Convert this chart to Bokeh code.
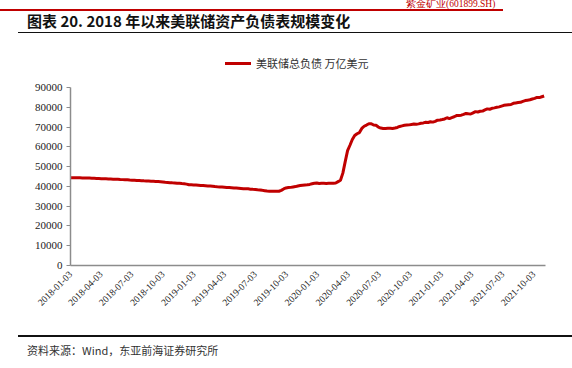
import pandas as pd
from math import pi
from bokeh.plotting import figure
from bokeh.layouts import column
from bokeh.models import ColumnDataSource, Range1d, FixedTicker, DatetimeTickFormatter, Div
from bokeh.embed import file_html
from bokeh.resources import INLINE

# ---- data (weekly, starting 2018-01-03), unit: 亿美元 ----
start_date = "2018-01-03"
v2018 = [44400, 44390, 44380, 44350, 44330,
         44300, 44250, 44220, 44180,
         44120, 44070, 44000, 43950,
         43900, 43850, 43800, 43750,
         43700, 43650, 43600, 43550, 43480,
         43420, 43350, 43300, 43220,
         43150, 43080, 43000, 42950,
         42880, 42800, 42750, 42700, 42620,
         42550, 42480, 42420, 42350,
         42230, 42100, 42000, 41900, 41800,
         41720, 41600, 41550, 41420,
         41300, 41150, 40850, 40800]
v2019 = [40750, 40700, 40600, 40500, 40450,
         40350, 40250, 40150, 40050,
         39900, 39800, 39750, 39650,
         39550, 39450, 39400, 39300,
         39200, 39150, 39050, 38950, 38850,
         38800, 38750, 38600, 38500,
         38450, 38300, 38200, 38000, 37850,
         37700, 37600, 37550, 37500,
         37500, 37550, 38000, 38700,
         39200, 39400, 39500, 39700, 39900,
         40200, 40400, 40600, 40700,
         40800, 41000, 41300, 41600]
v2020 = [41700, 41500, 41600, 41550, 41500,
         41600, 41650, 41600, 41700,
         42400, 43100, 46700, 52500,
         58100, 60800, 63700, 65700, 66600,
         67200, 69300, 70400, 71000,
         71700, 71700, 71000, 70900,
         70000, 69500, 69300, 69300, 69400,
         69400, 69300, 69500, 69800,
         70300, 70600, 70900, 71000, 71100,
         71300, 71500, 71400, 71600,
         71900, 72100, 72400, 72300,
         72700, 72500, 72900, 73500, 73600]
v2021 = [73800, 74100, 74700, 74300,
         74800, 75200, 75800, 75900,
         76000, 76400, 76900, 76700, 76600,
         77200, 77800, 77600, 78000,
         78100, 78700, 79200, 79000,
         79500, 79700, 80000, 80200, 80600,
         81000, 81200, 81300, 81400,
         82000, 82200, 82400, 82500,
         83000, 83400, 83600, 83800, 84200,
         84500, 85000, 84900, 85300,
         85700]

tick_labels = ["2018-01-03", "2018-04-03", "2018-07-03", "2018-10-03",
               "2019-01-03", "2019-04-03", "2019-07-03", "2019-10-03",
               "2020-01-03", "2020-04-03", "2020-07-03", "2020-10-03",
               "2021-01-03", "2021-04-03", "2021-07-03", "2021-10-03"]
y_ticks = [0, 10000, 20000, 30000, 40000, 50000, 60000, 70000, 80000, 90000]

series_name = "美联储总负债 万亿美元"
header_text = "紫金矿业(601899.SH)"
title_text = "图表 20. 2018 年以来美联储资产负债表规模变化"
source_text = "资料来源：Wind，东亚前海证券研究所"

values = v2018 + v2019 + v2020 + v2021
dates = pd.date_range(start_date, periods=len(values), freq="7D")
src = ColumnDataSource(dict(date=dates, value=values))

RED = "#C00000"
SERIF = "Liberation Serif"
CJK = "Noto Sans CJK SC"
W = 572
HH, MH = 76, 240
FH = 368 - HH - MH


def box(left, top, width, height, color):
    return (f'<div style="position:absolute;left:{left}px;top:{top}px;width:{width}px;'
            f'height:{height}px;background:{color};"></div>')


def txt(left, top, s, size, color, family, weight="normal", lh=None):
    lh = lh or size
    return (f'<div style="position:absolute;left:{left}px;top:{top}px;white-space:nowrap;'
            f'font-family:\'{family}\';font-size:{size}px;line-height:{lh}px;'
            f'font-weight:{weight};color:{color};">{s}</div>')


# ---------------- header ----------------
hdr_html = (f'<div style="position:relative;width:{W}px;height:{HH}px;overflow:hidden;'
            f'background:white;margin:0;padding:0;">'
            + txt(406, 0, header_text, 9.5, RED, SERIF, lh=9)
            + box(0, 9.4, 503, 1.6, RED)
            + txt(27, 13, title_text, 15, "#111111", CJK, "bold", 16)
            + box(18, 31.5, 554, 1.6, "#111111")
            + box(225, 61.5, 26, 3, RED)
            + txt(256, 57, series_name, 11, "#333333", CJK, lh=12)
            + '</div>')
hdr = Div(text=hdr_html, width=W, height=HH, margin=0)

# ---------------- main chart ----------------
p = figure(width=W, height=MH, x_axis_type="datetime",
           x_range=Range1d(pd.Timestamp("2018-01-03"), pd.Timestamp("2021-11-07")),
           y_range=Range1d(0, 90000),
           min_border_left=70, min_border_right=27, min_border_top=11, min_border_bottom=51,
           toolbar_location=None, output_backend="svg")
p.outline_line_color = None
p.xgrid.visible = False
p.ygrid.visible = False
p.background_fill_color = "white"
p.border_fill_color = "white"

p.line(x="date", y="value", source=src, line_color=RED, line_width=3)

xa = p.xaxis[0]
xa.ticker = FixedTicker(ticks=[pd.Timestamp(t).value / 1e6 for t in tick_labels])
fmt = "%Y-%m-%d"
xa.formatter = DatetimeTickFormatter(microseconds=fmt, milliseconds=fmt, seconds=fmt,
                                     minsec=fmt, minutes=fmt, hourmin=fmt, hours=fmt,
                                     days=fmt, months=fmt, years=fmt)
xa.major_label_orientation = pi / 4
xa.major_label_text_font = SERIF
xa.major_label_text_font_size = "9.5px"
xa.major_label_text_color = "#222222"
xa.axis_line_color = "#8c8c8c"
xa.axis_line_width = 1.5
xa.major_tick_out = 0
xa.major_tick_in = 0
xa.minor_tick_out = 0
xa.minor_tick_in = 0
xa.major_label_standoff = 7

ya = p.yaxis[0]
ya.ticker = FixedTicker(ticks=y_ticks)
ya.major_label_text_font = SERIF
ya.major_label_text_font_size = "11px"
ya.major_label_text_color = "#222222"
ya.axis_line_color = "#8c8c8c"
ya.axis_line_width = 1.5
ya.major_tick_line_color = "#8c8c8c"
ya.major_tick_out = 4
ya.major_tick_in = 0
ya.minor_tick_out = 0
ya.minor_tick_in = 0
ya.major_label_standoff = 4

# ---------------- footer ----------------
ftr_html = (f'<div style="position:relative;width:{W}px;height:{FH}px;overflow:hidden;'
            f'background:white;margin:0;padding:0;">'
            + box(18, 19, 554, 1.6, "#111111")
            + txt(27, 28, source_text, 11, "#333333", CJK, lh=12)
            + '</div>')
ftr = Div(text=ftr_html, width=W, height=FH, margin=0)

layout = column(hdr, p, ftr, spacing=0)
open("out.html", "w").write(file_html(layout, INLINE))
